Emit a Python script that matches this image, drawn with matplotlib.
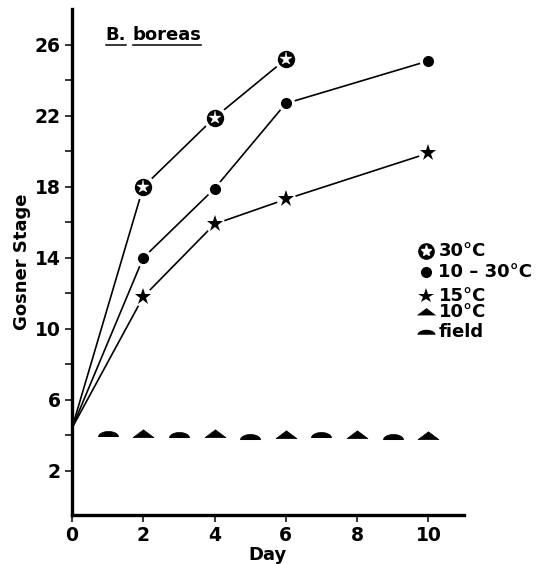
import numpy as np
import matplotlib
matplotlib.use("Agg")
import matplotlib.pyplot as plt
from matplotlib.path import Path
from matplotlib.lines import Line2D

plt.rcParams["font.family"] = ["DejaVu Sans"]
plt.rcParams["font.weight"] = "bold"

# data
day_30 = [0, 2, 4, 6]
stage_30 = [4.4, 18.0, 21.9, 25.2]

day_10_30 = [0, 2, 4, 6, 10]
stage_10_30 = [4.4, 14.0, 17.9, 22.7, 25.1]

day_15 = [0, 2, 4, 6, 10]
stage_15 = [4.4, 11.8, 15.9, 17.3, 19.9]

day_10 = [2, 4, 6, 8, 10]
stage_10 = [4.05, 4.05, 4.0, 4.0, 3.95]

day_field = [1, 3, 5, 7, 9]
stage_field = [4.05, 4.0, 3.9, 4.0, 3.9]

labels = ["30°C", "10 – 30°C", "15°C", "10°C", "field"]

# custom marker shapes
tri = Path([(-1, -0.3), (1, -0.3), (0, 0.45), (-1, -0.3)],
           [Path.MOVETO, Path.LINETO, Path.LINETO, Path.CLOSEPOLY])
t = np.linspace(0, np.pi, 30)
half = Path(np.column_stack([np.cos(t), 0.55 * np.sin(t) - 0.25]))

fig = plt.figure(figsize=(5.36, 5.64), dpi=100)
ax = fig.add_axes([0.1343, 0.0869, 0.7314, 0.8963])

lw = 1.2
ax.plot(day_30, stage_30, color="black", lw=lw, zorder=2)
ax.plot(day_10_30, stage_10_30, color="black", lw=lw, zorder=2)
ax.plot(day_15, stage_15, color="black", lw=lw, zorder=2)


def mark(x, y, gap, **kw):
    # white disc first so the lines stop short of the marker
    ax.plot(x, y, ls="none", marker="o", ms=gap, mfc="white", mec="none", zorder=3)
    ax.plot(x, y, ls="none", zorder=4, **kw)


mark(day_30[1:], stage_30[1:], 17.5, marker="o", ms=12.5, mfc="black", mec="black", mew=0)
ax.plot(day_30[1:], stage_30[1:], ls="none", marker="*", ms=9.5, mfc="white",
        mec="white", mew=0.3, zorder=5)
mark(day_10_30[1:], stage_10_30[1:], 12.5, marker="o", ms=8, mfc="black", mec="black", mew=0)
mark(day_15[1:], stage_15[1:], 14, marker="*", ms=12.5, mfc="black", mec="black", mew=0)
ax.plot(day_10, stage_10, ls="none", marker=tri, ms=15, mfc="black", mec="black",
        mew=0.5, zorder=3)
ax.plot(day_field, stage_field, ls="none", marker=half, ms=14.5, mfc="black",
        mec="black", mew=0.5, zorder=3)

ax.set_xlim(0, 11)
ax.set_ylim(-0.5, 28)
ax.set_xticks([0, 2, 4, 6, 8, 10])
ax.set_yticks([2, 6, 10, 14, 18, 22, 26])
ax.set_yticks([4, 8, 12, 16, 20, 24], minor=True)
ax.spines["top"].set_visible(False)
ax.spines["right"].set_visible(False)
for s in ("left", "bottom"):
    ax.spines[s].set_linewidth(2.4)
ax.tick_params(axis="both", which="both", direction="out", length=5, width=1.1,
               labelsize=13.5, pad=3)

ax.set_xlabel("Day", fontsize=13, fontweight="bold", labelpad=1)
ax.set_ylabel("Gosner Stage", fontsize=13, fontweight="bold", labelpad=3)

# species title, underlined
fig.canvas.draw()
renderer = fig.canvas.get_renderer()
x0 = 0.197
for word in ["B.", "boreas"]:
    txt = fig.text(x0, 0.929, word, fontsize=13, fontweight="bold", va="baseline")
    bb = txt.get_window_extent(renderer).transformed(fig.transFigure.inverted())
    fig.add_artist(Line2D([bb.x0, bb.x1], [0.920, 0.920], color="black", lw=1.1,
                          transform=fig.transFigure))
    x0 = bb.x1 + 0.012

# legend drawn by hand
handles = [
    dict(marker="o", ms=12, mfc="black"),
    dict(marker="o", ms=8, mfc="black"),
    dict(marker="*", ms=11.5, mfc="black"),
    dict(marker=tri, ms=14, mfc="black"),
    dict(marker=half, ms=13, mfc="black"),
]
ys = [0.555, 0.518, 0.476, 0.446, 0.412]
for h, y, lab in zip(handles, ys, labels):
    fig.add_artist(Line2D([0.795], [y], ls="none", mec="black", mew=0,
                          transform=fig.transFigure, **h))
    if lab == "30°C":
        fig.add_artist(Line2D([0.795], [y], ls="none", marker="*", ms=8, mfc="white",
                              mec="white", transform=fig.transFigure))
    fig.text(0.818, y, lab, fontsize=13, fontweight="bold", va="center")

fig.savefig("out.png", dpi=100)
